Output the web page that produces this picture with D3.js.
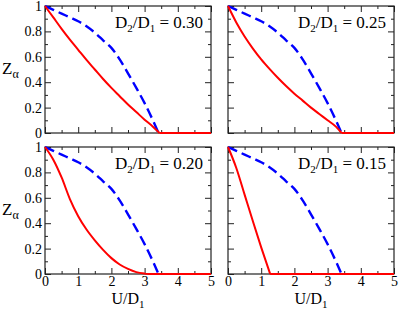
<!DOCTYPE html>
<html>
<head>
<meta charset="utf-8">
<script src="https://cdn.jsdelivr.net/npm/d3@7"></script>
<style>
  body { margin: 0; background: #fff; }
  svg text { font-family: "Liberation Serif", "DejaVu Serif", "Times New Roman", Times, serif; fill: #000; }
</style>
</head>
<body>
<div id="chart"></div>
<script>
// panel labels, D2/D1
var ratios = ["0.30", "0.25", "0.20", "0.15"];

var xMajor = [0, 1, 2, 3, 4, 5];
var xMinor = [0.5, 1.5, 2.5, 3.5, 4.5];
var yMajor = [0, 0.2, 0.4, 0.6, 0.8, 1];
var yLabels = ["0", "0.2", "0.4", "0.6", "0.8", "1"];
var yMinor = [0.1, 0.3, 0.5, 0.7, 0.9];

// blue dashed curve (same in every panel)
var blueU = [0, 0.25, 0.5, 0.75, 1, 1.25, 1.5, 1.75, 2, 2.25, 2.5, 2.75, 3, 3.25, 3.42];
var blueZ = [1, 0.97, 0.94, 0.91, 0.88, 0.84, 0.79, 0.73, 0.67, 0.58, 0.47, 0.355, 0.235, 0.1, 0];

// red solid curves
var red30U = [0, 0.25, 0.5, 0.75, 1, 1.25, 1.5, 1.75, 2, 2.25, 2.5, 2.75, 3, 3.25, 3.45, 5];
var red30Z = [1, 0.91, 0.82, 0.735, 0.655, 0.575, 0.5, 0.425, 0.355, 0.29, 0.225, 0.165, 0.105, 0.05, 0, 0];
var red25U = [0, 0.25, 0.5, 0.75, 1, 1.25, 1.5, 1.75, 2, 2.25, 2.5, 2.75, 3, 3.25, 3.42, 5];
var red25Z = [1, 0.87, 0.76, 0.665, 0.58, 0.505, 0.435, 0.37, 0.31, 0.255, 0.2, 0.15, 0.1, 0.05, 0, 0];
var red20U = [0, 0.25, 0.5, 0.75, 1, 1.25, 1.5, 1.75, 2, 2.25, 2.5, 2.75, 3, 3.1, 5];
var red20Z = [1, 0.9, 0.76, 0.59, 0.455, 0.35, 0.265, 0.19, 0.125, 0.075, 0.04, 0.015, 0.003, 0, 0];
var red15U = [0, 0.25, 0.5, 0.75, 1, 1.27, 5];
var red15Z = [1, 0.835, 0.625, 0.415, 0.21, 0, 0];

var redU = [red30U, red25U, red20U, red15U];
var redZ = [red30Z, red25Z, red20Z, red15Z];

var W = 399, H = 311;
var cols = [[45, 211], [228, 394]];
var rows = [[6, 133], [147, 274]];
var serif = '"Liberation Serif", "DejaVu Serif", "Times New Roman", Times, serif';

var svg = d3.select('#chart').append('svg')
  .attr('width', W)
  .attr('height', H);

var zip = function(u, z) { return u.map(function(d, i) { return [d, z[i]]; }); };

ratios.forEach(function(r, i) {
  var c = cols[i % 2], rw = rows[Math.floor(i / 2)];
  var isLeft = i % 2 === 0, isBottom = i >= 2;
  var pw = c[1] - c[0], ph = rw[1] - rw[0];

  var x = d3.scaleLinear().domain([0, 5]).range([0, pw]);
  var y = d3.scaleLinear().domain([0, 1]).range([ph, 0]);

  var g = svg.append('g').attr('transform', 'translate(' + c[0] + ',' + rw[0] + ')');

  // ticks on all four sides, pointing in
  var addAxis = function(axis, tr, labels) {
    var a = g.append('g').attr('transform', tr).call(axis);
    a.attr('font-family', serif);
    a.select('.domain').remove();
    a.selectAll('line').attr('stroke', '#222');
    a.selectAll('text').style('font-size', '14px').style('font-family', serif);
    if (!labels) a.selectAll('text').remove();
  };
  addAxis(d3.axisBottom(x).tickValues(xMajor).tickSize(-6).tickPadding(2).tickFormat(d3.format('d')), 'translate(0,' + ph + ')', isBottom);
  addAxis(d3.axisBottom(x).tickValues(xMinor).tickSize(-3).tickFormat(''), 'translate(0,' + ph + ')', false);
  addAxis(d3.axisTop(x).tickValues(xMajor).tickSize(-6).tickFormat(''), 'translate(0,0)', false);
  addAxis(d3.axisTop(x).tickValues(xMinor).tickSize(-3).tickFormat(''), 'translate(0,0)', false);
  addAxis(d3.axisLeft(y).tickValues(yMajor).tickSize(-6).tickPadding(3)
    .tickFormat(function(d, k) { return yLabels[k]; }), 'translate(0,0)', isLeft);
  addAxis(d3.axisLeft(y).tickValues(yMinor).tickSize(-3).tickFormat(''), 'translate(0,0)', false);
  addAxis(d3.axisRight(y).tickValues(yMajor).tickSize(-6).tickFormat(''), 'translate(' + pw + ',0)', false);
  addAxis(d3.axisRight(y).tickValues(yMinor).tickSize(-3).tickFormat(''), 'translate(' + pw + ',0)', false);

  g.append('rect')
    .attr('width', pw).attr('height', ph)
    .attr('fill', 'none').attr('stroke', '#222').attr('stroke-width', 1.2);

  var smooth = d3.line().x(function(d) { return x(d[0]); }).y(function(d) { return y(d[1]); })
    .curve(d3.curveMonotoneX);
  var straight = d3.line().x(function(d) { return x(d[0]); }).y(function(d) { return y(d[1]); });

  g.append('path')
    .attr('d', smooth(zip(blueU, blueZ)))
    .attr('fill', 'none').attr('stroke', '#0000ff')
    .attr('stroke-width', 2.4).attr('stroke-dasharray', '10,5');

  var pts = zip(redU[i], redZ[i]);
  var k0 = pts.findIndex(function(p) { return p[1] === 0; });
  g.append('path')
    .attr('d', smooth(pts.slice(0, k0 + 1)))
    .attr('fill', 'none').attr('stroke', '#ff0000').attr('stroke-width', 2);
  g.append('path')
    .attr('d', straight(pts.slice(k0)))
    .attr('fill', 'none').attr('stroke', '#ff0000').attr('stroke-width', 2);

  // D2/D1 = value
  var t = g.append('text')
    .attr('x', pw - 8).attr('y', 22)
    .attr('text-anchor', 'end')
    .style('font-size', '17px');
  t.append('tspan').text('D');
  t.append('tspan').attr('dy', 4).style('font-size', '11px').text('2');
  t.append('tspan').attr('dy', -4).text('/D');
  t.append('tspan').attr('dy', 4).style('font-size', '11px').text('1');
  t.append('tspan').attr('dy', -4).text(' = ' + r);

  if (isLeft) {
    var zt = svg.append('text')
      .attr('x', 2).attr('y', rw[0] + ph / 2 + 4)
      .style('font-size', '17px');
    zt.append('tspan').text('Z');
    zt.append('tspan').attr('dy', 4).style('font-size', '12px').text('\u03b1');
  }
  if (isBottom) {
    var xt = svg.append('text')
      .attr('x', c[0] + pw / 2).attr('y', 304)
      .attr('text-anchor', 'middle')
      .style('font-size', '16px');
    xt.append('tspan').text('U/D');
    xt.append('tspan').attr('dy', 4).style('font-size', '11px').text('1');
  }
});
</script>
</body>
</html>
